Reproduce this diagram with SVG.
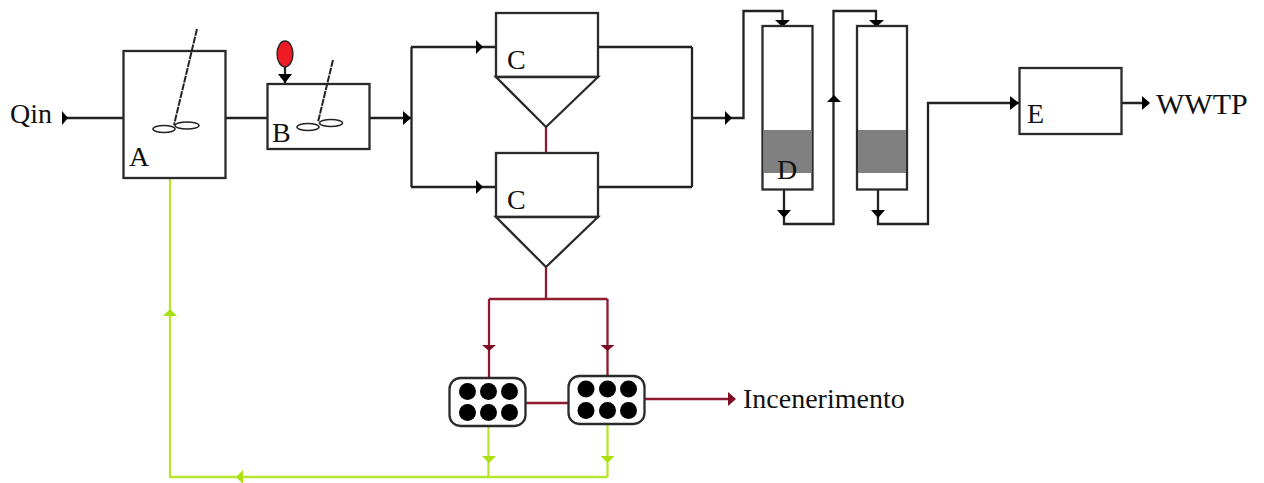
<svg xmlns="http://www.w3.org/2000/svg" width="1264" height="483" viewBox="0 0 1264 483">
<defs>
<style>
.box{fill:#fff;stroke:#2a2a2a;stroke-width:2.300}
.c{fill:none;stroke:#222;stroke-width:2.300}
.r{fill:none;stroke:#8e1a30;stroke-width:2.300}
.g{fill:none;stroke:#b9e52f;stroke-width:2.300}
.ah{fill:#000}.ar{fill:#7d0c22}.ag{fill:#a8e010}
.t{font-family:"Liberation Serif","Times New Roman",serif;font-size:28px;fill:#111}
.w{font-size:30px}
.s{fill:none;stroke:#222;stroke-width:2;stroke-dasharray:7 1}
.b{fill:#fff;stroke:#222;stroke-width:1.500}
.d{fill:#000}
</style>
</defs>
<rect width="1264" height="483" fill="#fff"/>
<g id="connectors">
<path class="c" d="M63 118H123M226 118H267M370 118H411M411.500 47V187M411 47H496M411 187H496M598 47H692M598 187H692M692 47V187M692 118H743.500V11H782.500V26M784 190V224H833.500V11H876V26M878 190V224H928V103H1019M1122 103H1149"/>
<path class="c" d="M285 66V84"/>
<path class="r" d="M546 127V153M546 267V299M489 299H607.500M489 299V378M607.500 299V376M526 403H568M644 399H730"/>
<path class="g" d="M170 179V477H607.500M488.500 426V477M607.500 424V477"/>
<path class="ah" d="M62 111L68 118L62 125Z"/>
<path class="ah" d="M403 111L411 118L403 125Z"/>
<path class="ah" d="M476 40L483 47L476 54Z"/>
<path class="ah" d="M476 180L483 187L476 194Z"/>
<path class="ah" d="M725 111L732 118L725 125Z"/>
<path class="ah" d="M775 20H790L782.500 27Z"/>
<path class="ah" d="M869 20H884L876.500 27Z"/>
<path class="ah" d="M777 210H791L784 218Z"/>
<path class="ah" d="M871 210H885L878 218Z"/>
<path class="ah" d="M827 102H841L834 95Z"/>
<path class="ah" d="M1010 96L1019 103L1010 110Z"/>
<path class="ah" d="M1142 96L1150 103L1142 110Z"/>
<path class="ah" d="M278 74H292L285 83Z"/>
<path class="ar" d="M482 345H496L489 351Z"/>
<path class="ar" d="M600.500 345H614.500L607.500 351Z"/>
<path class="ar" d="M728 392L736 399L728 406Z"/>
<path class="ag" d="M482 456H496L489 463Z"/>
<path class="ag" d="M600.500 456H614.500L607.500 463Z"/>
<path class="ag" d="M163 316H177L170 309Z"/>
<path class="ag" d="M243 470L236 477L243 484Z"/>
</g>
<g id="node-a">
<rect class="box" x="123.500" y="51" width="102" height="127"/>
<path class="s" d="M197 29L174 125"/>
<ellipse class="b" cx="164" cy="129" rx="11" ry="3.500"/>
<ellipse class="b" cx="187" cy="125.500" rx="12" ry="3.500"/>
<text class="t" x="129" y="166">A</text>
</g>
<g id="node-b">
<rect class="box" x="267.500" y="84" width="102" height="65"/>
<path class="s" d="M333 60L318 122"/>
<ellipse class="b" cx="308" cy="127" rx="11" ry="3.500"/>
<ellipse class="b" cx="331" cy="123" rx="11.500" ry="3.500"/>
<text class="t" x="272" y="142">B</text>
</g>
<g id="dosing"><ellipse cx="285" cy="54" rx="8" ry="13" fill="#ed1c24" stroke="#222" stroke-width="1.300"/></g>
<g id="node-c1">
<rect class="box" x="496" y="13" width="102" height="64"/>
<path class="box" d="M496 77H598L546 127Z"/>
<text class="t" x="507" y="69">C</text>
</g>
<g id="node-c2">
<rect class="box" x="496" y="153" width="102" height="64"/>
<path class="box" d="M496 217H598L546 267Z"/>
<text class="t" x="507" y="209">C</text>
</g>
<g id="node-d1">
<rect class="box" x="762.500" y="26" width="50" height="163.500"/>
<rect x="763.500" y="130" width="48" height="43" fill="#808080"/>
<text class="t" x="777" y="179">D</text>
</g>
<g id="node-d2">
<rect class="box" x="857" y="26" width="50" height="163.500"/>
<rect x="858" y="130" width="48" height="43" fill="#808080"/>
</g>
<g id="node-e">
<rect class="box" x="1019.500" y="68" width="102" height="66"/>
<text class="t" x="1027" y="123">E</text>
</g>
<g id="press-1">
<rect class="box" x="449.500" y="378" width="76" height="48" rx="11"/>
<circle class="d" cx="467.500" cy="391.500" r="8.500"/><circle class="d" cx="488.500" cy="391.500" r="8.500"/><circle class="d" cx="509.500" cy="391.500" r="8.500"/>
<circle class="d" cx="467.500" cy="412.500" r="8.500"/><circle class="d" cx="488.500" cy="412.500" r="8.500"/><circle class="d" cx="509.500" cy="412.500" r="8.500"/>
</g>
<g id="press-2">
<rect class="box" x="568.500" y="376" width="76" height="48" rx="11"/>
<circle class="d" cx="586" cy="389" r="8.500"/><circle class="d" cx="607.500" cy="389" r="8.500"/><circle class="d" cx="628.500" cy="389" r="8.500"/>
<circle class="d" cx="586" cy="410.500" r="8.500"/><circle class="d" cx="607.500" cy="410.500" r="8.500"/><circle class="d" cx="628.500" cy="410.500" r="8.500"/>
</g>
<g id="labels">
<text class="t" x="10" y="123">Qin</text>
<text class="t w" x="1156" y="114">WWTP</text>
<text class="t" x="743" y="408">Incenerimento</text>
</g>
</svg>
